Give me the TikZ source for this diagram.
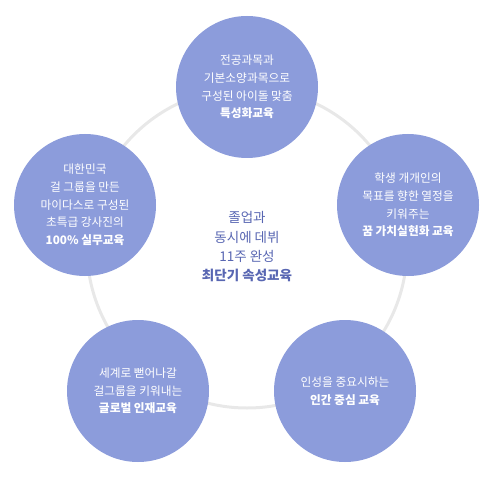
\documentclass[tikz,border=0pt]{standalone}
\usepackage{fontspec}
\setmainfont{Noto Sans CJK KR}
\definecolor{bubblefill}{RGB}{140,156,219}
\definecolor{ringgray}{RGB}{232,232,232}
\definecolor{coreblue}{RGB}{88,102,178}
\tikzset{
    bubble/.style={
        circle,
        fill=bubblefill,
        minimum size=142pt,
        inner sep=0pt,
        text=white,
        align=center,
        font=\fontsize{11.7}{17.7}\selectfont
    },
    core/.style={
        align=center,
        text=coreblue,
        font=\fontsize{13.5}{19.3}\selectfont
    }
}

\begin{document}
\begin{tikzpicture}[x=1pt, y=-1pt]
\useasboundingbox (0,0) rectangle (500,481);

% 1. Ring behind the bubbles
\coordinate (hub) at (247,248);
\draw[ringgray, line width=3pt] (hub) circle (160pt);

% 2. Centre text
\node[core] (core) at (247,247) {졸업과\\동시에 데뷔\\11주 완성\\\textbf{최단기 속성교육}};

% 3. Bubbles
\node[bubble] (special) at (247,87) {전공과목과\\기본소양과목으로\\구성된 아이돌 맞춤\\\textbf{특성화교육}};
\node[bubble] (dream) at (408,205) {학생 개개인의\\목표를 향한 열정을\\키워주는\\\textbf{꿈 가치실현화 교육}};
\node[bubble] (expert) at (85,205) {대한민국\\걸 그룹을 만든\\마이다스로 구성된\\초특급 강사진의\\\textbf{100\% 실무교육}};
\node[bubble] (global) at (138,391) {세계로 뻗어나갈\\걸그룹을 키워내는\\\textbf{글로벌 인재교육}};
\node[bubble] (human) at (345,391) {인성을 중요시하는\\\textbf{인간 중심 교육}};

\end{tikzpicture}
\end{document}
